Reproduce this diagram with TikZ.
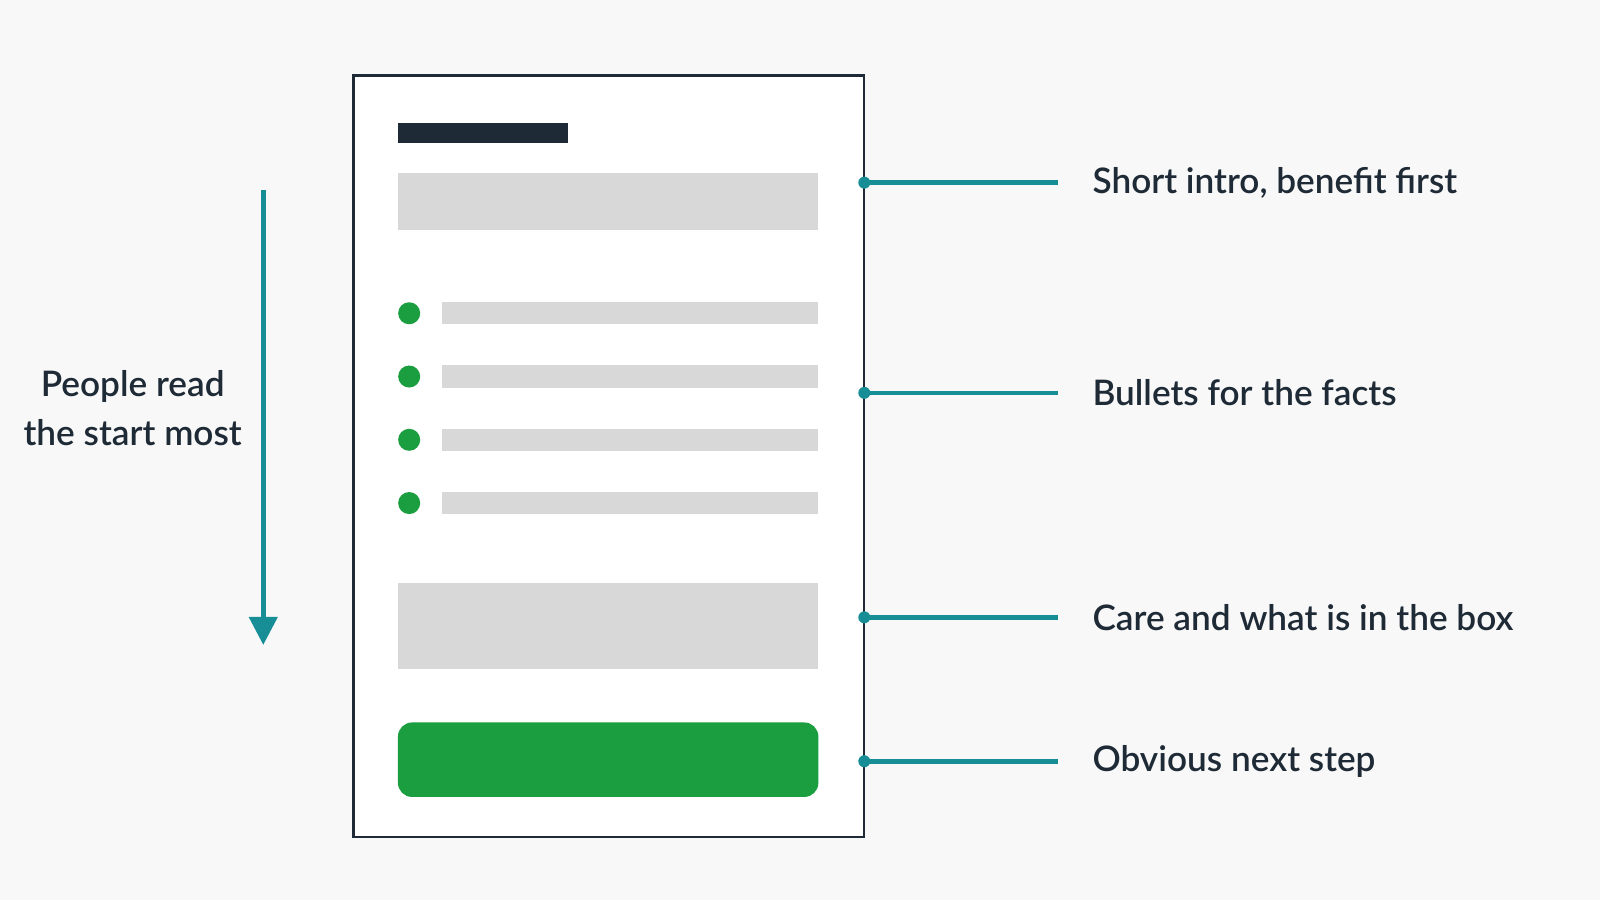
\documentclass[tikz,border=0pt]{standalone}
\usepackage{fontspec}
\setmainfont{Lato}[BoldFont={Lato Semibold}]
\usetikzlibrary{arrows.meta}
\definecolor{bg}{HTML}{F8F8F8}
\definecolor{ink}{HTML}{1E2A36}
\definecolor{filler}{HTML}{D8D8D8}
\definecolor{leaf}{HTML}{1A9E40}
\definecolor{teal}{HTML}{178E95}
\tikzset{
  lbl/.style={anchor=west,text=ink,font=\fontsize{10}{13}\selectfont\bfseries,inner sep=0pt},
  bar/.style={fill=filler,draw=none},
  dot/.style={circle,fill=leaf,minimum size=0.22cm,inner sep=0pt},
  link/.style={teal,line width=1.3pt}
}
\begin{document}
\begin{tikzpicture}[x=0.0102cm,y=-0.0102cm]
\useasboundingbox[fill=bg] (0,0) rectangle (1568,882);
\node[draw=ink,fill=white,line width=0.8pt,minimum width=5.1cm,minimum height=7.61cm,inner sep=0pt] (page) at (596.5,447) {};
\fill[ink] (390,121) rectangle (557,140);
\fill[filler] (390,170) rectangle (802,225);
\foreach \y/\n in {307/1,369/2,431/3,493/4}{
  \node[dot] (b\n) at (401,\y) {};
  \fill[filler] (433,\y-11) rectangle (802,\y+11);
}
\fill[filler] (390,571) rectangle (802,656);
\fill[leaf,rounded corners=4pt] (390,708) rectangle (802,781);
% callouts
\coordinate (c1) at (847,179);
\coordinate (c2) at (847,385);
\coordinate (c3) at (847,605);
\coordinate (c4) at (847,746);
\node[lbl] (l1) at (1070,179) {Short intro, benefit first};
\node[lbl] (l2) at (1070,385) {Bullets for the facts};
\node[lbl] (l3) at (1070,605) {Care and what is in the box};
\node[lbl] (l4) at (1070,746) {Obvious next step};
\foreach \n in {1,...,4}{
  \fill[teal] (c\n) circle (0.06cm);
  \draw[link,shorten >=0.34cm] (c\n) -- (c\n -| l\n.west);
}
% reading direction
\coordinate (top) at (258,186);
\coordinate (bot) at (258,632);
\draw[link,-{Triangle[width=8pt,length=8pt]}] (top) -- (bot);
\node[text=ink,font=\fontsize{10}{14}\selectfont\bfseries,align=center] (read) at (130,400) {People read\\the start most};
\end{tikzpicture}
\end{document}
